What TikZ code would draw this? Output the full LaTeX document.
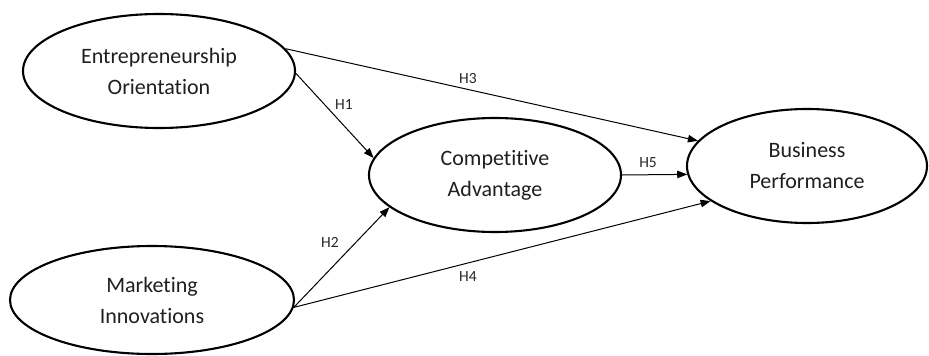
\documentclass[tikz,border=0pt]{standalone}
\usepackage{fontspec}
\setmainfont{Carlito}[Ligatures=NoCommon]
\usetikzlibrary{shapes.geometric,arrows.meta}
\begin{document}
\begin{tikzpicture}[x=1pt,y=-1pt,
  construct/.style={draw=black, ellipse, line width=2.1pt, inner sep=0pt,
    align=center, text=black!88,
    font=\fontsize{22pt}{31pt}\selectfont},
  path/.style={draw=black, line width=1pt,
    -{Triangle[length=10pt,width=7.5pt]}},
  hyp/.style={inner sep=0pt, text=black!85, font=\fontsize{15.5pt}{17pt}\selectfont}]
  \useasboundingbox (0,0) rectangle (929,356);

  % constructs
  \node[construct, minimum width=272pt, minimum height=114pt] (eo) at (159,71)
    {Entrepreneurship\\Orientation};
  \node[construct, minimum width=284pt, minimum height=108pt] (mi) at (152,300)
    {Marketing\\Innovations};
  \node[construct, minimum width=252pt, minimum height=114pt] (ca) at (495,175)
    {Competitive\\Advantage};
  \node[construct, minimum width=240pt, minimum height=114pt] (bp) at (807,166)
    {Business\\Performance};

  % hypothesised paths
  \draw[path] (eo.-1) -- (ca.172);
  \draw[path] (mi.-3) -- (ca.197);
  \draw[path] (eo.10) -- (bp.167);
  \draw[path] (mi.-3) -- (bp.200);
  \draw[path] (ca.east) -- (bp.184.3);

  % path labels
  \node[hyp] (h1) at (344,105) {H1};
  \node[hyp] (h2) at (330,242) {H2};
  \node[hyp] (h3) at (468,79) {H3};
  \node[hyp] (h4) at (468,277) {H4};
  \node[hyp] (h5) at (648,163) {H5};
\end{tikzpicture}
\end{document}
